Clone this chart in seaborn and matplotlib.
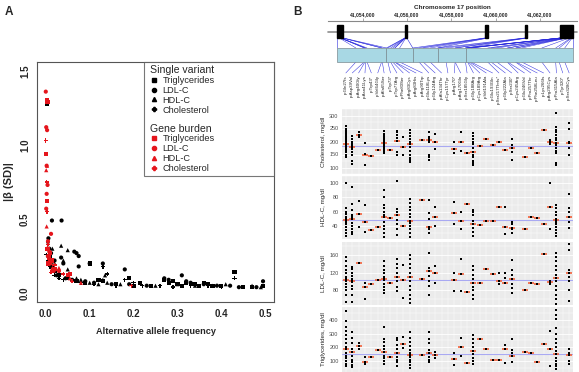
import re
import numpy as np
import pandas as pd
import matplotlib
matplotlib.use("Agg")
import matplotlib.pyplot as plt
import seaborn as sns
from matplotlib.lines import Line2D
from matplotlib.patches import Rectangle

sns.set_style("white")
plt.rcParams['font.family'] = ['Liberation Sans', 'DejaVu Sans']

# ---------------- Panel A data ----------------
sv_tg_freq = [0.003, 0.10, 0.13, 0.19, 0.215, 0.27, 0.28, 0.30, 0.31, 0.32, 0.33, 0.35, 0.37, 0.38, 0.43, 0.45, 0.495,
              0.005, 0.01, 0.02, 0.03, 0.05, 0.07, 0.09, 0.12, 0.16, 0.20, 0.24, 0.29, 0.34, 0.36, 0.40, 0.47]
sv_tg_beta = [1.28, 0.20, 0.08, 0.10, 0.07, 0.09, 0.07, 0.06, 0.05, 0.07, 0.06, 0.05, 0.06, 0.05, 0.14, 0.04, 0.05,
              0.30, 0.25, 0.15, 0.12, 0.10, 0.08, 0.07, 0.09, 0.06, 0.05, 0.05, 0.08, 0.06, 0.07, 0.05, 0.04]
sv_ldl_freq = [0.014, 0.036, 0.006, 0.008, 0.07, 0.075, 0.065, 0.035, 0.02, 0.13, 0.18, 0.31, 0.495, 0.10, 0.075, 0.04,
               0.012, 0.025, 0.045, 0.06, 0.09, 0.11, 0.15, 0.19, 0.23, 0.27, 0.28, 0.32, 0.33, 0.36, 0.39, 0.42, 0.44,
               0.48, 0.005, 0.015]
sv_ldl_beta = [0.49, 0.49, 0.37, 0.30, 0.27, 0.25, 0.28, 0.24, 0.22, 0.20, 0.16, 0.12, 0.08, 0.20, 0.18, 0.20,
               0.27, 0.12, 0.10, 0.09, 0.08, 0.07, 0.06, 0.06, 0.05, 0.10, 0.09, 0.08, 0.07, 0.06, 0.05, 0.05, 0.04,
               0.04, 0.25, 0.18]
sv_hdl_freq = [0.035, 0.05, 0.005, 0.015, 0.04, 0.02, 0.05, 0.03, 0.135, 0.13, 0.07, 0.10, 0.14, 0.17, 0.25, 0.30,
               0.34, 0.38, 0.41, 0.47, 0.49, 0.012, 0.055, 0.08, 0.12]
sv_hdl_beta = [0.32, 0.29, 0.35, 0.30, 0.22, 0.20, 0.16, 0.14, 0.12, 0.09, 0.10, 0.07, 0.07, 0.06, 0.05, 0.06,
               0.05, 0.05, 0.06, 0.05, 0.04, 0.21, 0.13, 0.09, 0.06]
sv_chol_freq = [0.001, 0.006, 0.01, 0.13, 0.14, 0.43, 0.18, 0.20, 0.03, 0.06, 0.08, 0.11, 0.16, 0.22, 0.26, 0.29,
                0.33, 0.37, 0.40, 0.45, 0.02, 0.04]
sv_chol_beta = [0.26, 0.22, 0.18, 0.18, 0.13, 0.10, 0.09, 0.07, 0.10, 0.08, 0.07, 0.06, 0.05, 0.05, 0.05, 0.04,
                0.05, 0.05, 0.04, 0.04, 0.12, 0.09]

gb_tg_freq = [0.003, 0.004, 0.001, 0.002, 0.01, 0.005, 0.015, 0.05, 0.055, 0.02, 0.004, 0.008]
gb_tg_beta = [1.30, 1.29, 0.94, 0.62, 0.27, 0.20, 0.22, 0.12, 0.13, 0.16, 0.30, 0.24]
gb_ldl_freq = [0.0, 0.001, 0.003, 0.002, 0.004, 0.002, 0.001, 0.012, 0.005, 0.008, 0.01, 0.018, 0.03, 0.005]
gb_ldl_beta = [1.36, 1.12, 1.10, 0.86, 0.73, 0.67, 0.57, 0.40, 0.35, 0.28, 0.20, 0.15, 0.15, 0.25]
gb_hdl_freq = [0.001, 0.003, 0.002, 0.004, 0.007, 0.01, 0.015, 0.03, 0.055, 0.08]
gb_hdl_beta = [0.83, 0.86, 0.45, 0.31, 0.25, 0.21, 0.17, 0.17, 0.10, 0.07]
gb_chol_freq = [0.0, 0.002, 0.003, 0.005, 0.01, 0.012, 0.02, 0.04, 0.06, 0.195]
gb_chol_beta = [1.03, 0.75, 0.55, 0.33, 0.22, 0.14, 0.19, 0.13, 0.08, 0.05]

traits = ["Triglycerides", "LDL-C", "HDL-C", "Cholesterol"]
trait_markers = {"Triglycerides": "s", "LDL-C": "o", "HDL-C": "^", "Cholesterol": "P"}

# ---------------- Panel B data ----------------
variants = ["p.Gln27fs", "p.Asp39Val", "p.Arg40Gly", "p.Asn41Lys", "p.Trp43*", "p.Val64Gly", "p.Ala65Ser",
            "p.Trp73*", "p.Trp77Arg", "p.Phe80Ser", "p.Arg83Cys", "p.Arg83His", "p.Arg90Trp", "p.Glu118Lys",
            "p.Gly124Arg", "p.Ala134Thr", "p.Cys157Tyr", "p.Arg170*", "p.Arg170Gln", "p.Ser185Gly",
            "p.Gly188Arg", "p.Cys189Arg", "p.Val191Ala", "p.Glu193Gln", "p.Ser217Thrfs*", "p.Gly222Ala",
            "p.Ser230*", "p.Cys245Arg", "p.Glu246Val", "p.Pro257Thr", "p.Phe258Leu", "p.Lys266fs",
            "p.Arg295Cys", "p.Pro315Ala", "p.Tyr320*", "p.Ser328Cys"]

chrom_ticks = [41054000, 41056000, 41058000, 41060000, 41062000]
exon_start = [41052850, 41055900, 41059510, 41061320, 41062900]
exon_end = [41053120, 41055990, 41059650, 41061410, 41063490]
segment_aa = [0, 71, 109, 145, 185, 340]

nan = float('nan')
chol_pts = [[140, 150, 158, 165, 170, 175, 180, 185, 190, 195, 200, 205, 210, 215, 220, 228, 235, 242, 250, 258],
            [115, 125, 150, 160, 170, 178, 185, 192, 200, 210, 220], [216, 226, 237], [108, 152, 193], [144], [168],
            [155, 162, 170, 178, 185, 192, 198, 205, 212, 220, 228, 240], [167],
            [148, 158, 202, 215, 225, 235, 242], [147, 179, 218],
            [120, 128, 135, 150, 165, 180, 190, 198, 210, 220, 232, 245], [], [207],
            [128, 140, 150, 200, 204, 210, 218, 238], [172, 199, 230], [], [], [155, 173, 198], [165, 200, 238],
            [156], [110, 118, 125, 140, 150, 161, 175, 190, 200, 210, 220, 234], [182], [208], [187], [199],
            [169], [128, 158, 175, 187, 208], [], [142], [175], [156], [246], [192, 199, 206],
            [108, 118, 155, 165, 175, 185, 195, 205, 215, 225, 235, 245, 255, 308], [],
            [148, 175, 196, 200, 248, 270]]
chol_med = [192, 180, 226, 148, 144, 168, 195, 167, 202, 179, 189, nan, 207, 204, 199, nan, nan, 173, 200, 156,
            161, 182, 208, 187, 199, 169, 175, nan, 142, 175, 156, 246, 199, 193, nan, 196]

hdl_pts = [[26, 30, 34, 38, 42, 45, 48, 50, 53, 56, 60, 65, 100], [28, 32, 36, 40, 44, 49, 52, 55, 62, 71, 95],
           [38, 57, 75], [32, 46, 69], [34], [38], [25, 30, 35, 40, 45, 52, 55, 60, 65, 70, 80, 90], [51],
           [27, 35, 42, 48, 55, 60, 63, 103], [40], [25, 30, 35, 40, 44, 47, 52, 57, 62, 67, 72, 78], [], [77],
           [30, 35, 39, 50, 58, 77], [40, 53, 67], [], [], [42, 58, 73], [36, 47, 60], [71],
           [26, 32, 37, 42, 47, 55, 60, 62], [41], [47], [47], [67], [29, 38, 67], [30, 35, 37, 42, 45], [],
           [36], [52], [51], [43], [35, 67, 100], [26, 30, 34, 38, 42, 46, 48, 50, 55, 60, 65, 69], [],
           [37, 45, 53, 60, 65, 85]]
hdl_med = [48, 49, 57, 46, 34, 38, 52, 51, 55, 40, 47, nan, 77, 39, 53, nan, nan, 58, 47, 71, 42, 41, 47, 47, 67,
           38, 37, nan, 36, 52, 51, 43, 67, 48, nan, 53]

ldl_pts = [[54, 70, 80, 88, 95, 100, 102, 105, 110, 118, 125, 135, 145, 156],
           [54, 70, 82, 90, 98, 101, 105, 112, 120, 128, 133], [141], [60, 88, 97], [94], [103],
           [73, 80, 88, 95, 102, 106, 110, 118, 125, 135, 145], [97], [78, 88, 100, 111, 120, 130, 140, 150],
           [63, 102, 137], [52, 60, 70, 80, 90, 100, 109, 120, 130, 140, 150, 160], [], [106],
           [70, 90, 100, 112, 124, 130, 165], [96, 118, 135], [], [], [78, 102, 120], [78, 116, 150], [76],
           [60, 70, 80, 88, 96, 105, 115, 125, 135], [96], [127], [117], [94, 101, 118], [96, 108, 120],
           [73, 85, 95, 106, 115, 125, 148], [], [80], [97], [94], [161], [95, 98, 100],
           [50, 60, 70, 80, 90, 100, 107, 115, 125, 135, 145, 155, 165], [], [55, 80, 100, 110, 118, 125, 170, 185]]
ldl_med = [102, 101, 141, 88, 94, 103, 106, 97, 111, 102, 109, nan, 106, 124, 118, nan, nan, 102, 116, 76, 96, 96,
           127, 117, 101, 96, 106, nan, 80, 97, 94, 161, 98, 107, nan, 118]

tg_pts = [[60, 80, 100, 120, 140, 160, 185, 200, 230, 260, 290, 320, 350, 390, 466],
          [55, 70, 90, 110, 140, 166, 190, 230, 270, 310], [190, 207, 230], [75, 90, 130], [132], [178],
          [80, 100, 120, 140, 168, 190, 210, 240, 260, 346], [127], [65, 90, 110, 130, 156, 190, 220, 250, 270],
          [193, 227, 278], [50, 70, 90, 110, 130, 141, 160, 180, 210, 240, 270, 310], [], [141],
          [90, 110, 130, 161, 180, 230, 260, 310], [120, 144, 165], [], [], [70, 115, 160], [140, 200, 265], [88],
          [80, 100, 120, 150, 171, 200, 230, 260, 290], [259], [185], [110], [105], [83, 188, 217],
          [95, 137, 156, 180, 259], [], [163], [161], [93], [227], [60, 190, 320],
          [40, 60, 80, 100, 120, 149, 170, 200, 230, 260, 300, 340, 410, 440, 470], [], [80, 100, 141, 160, 190]]
tg_med = [185, 166, 207, 90, 132, 178, 168, 127, 156, 227, 141, nan, 141, 161, 144, nan, nan, 115, 200, 88, 171,
          259, 185, 110, 105, 188, 137, nan, 163, 161, 93, 227, 190, 149, nan, 141]

ref_levels = {"chol": 182, "hdl": 48, "ldl": 104, "tg": 150}

# ---------------- Figure ----------------
W, H = 579, 372
fig = plt.figure(figsize=(W / 100, H / 100), dpi=100)


def px_rect(x0, y0, x1, y1):
    return [x0 / W, 1 - y1 / H, (x1 - x0) / W, (y1 - y0) / H]


# ---- Panel A ----
axA = fig.add_axes(px_rect(37, 62, 274, 302))
rows = []
for kind, data in [("sv", [(sv_tg_freq, sv_tg_beta), (sv_ldl_freq, sv_ldl_beta), (sv_hdl_freq, sv_hdl_beta),
                           (sv_chol_freq, sv_chol_beta)]),
                   ("gb", [(gb_tg_freq, gb_tg_beta), (gb_ldl_freq, gb_ldl_beta), (gb_hdl_freq, gb_hdl_beta),
                           (gb_chol_freq, gb_chol_beta)])]:
    for t, (fx, by) in zip(traits, data):
        for a, b in zip(fx, by):
            rows.append((kind, t, a, b))
dfA = pd.DataFrame(rows, columns=["kind", "trait", "freq", "beta"])
colors = {"sv": "black", "gb": "#E5151C"}
for kind in ["sv", "gb"]:
    sns.scatterplot(data=dfA[dfA.kind == kind], x="freq", y="beta", style="trait", style_order=traits,
                    markers=trait_markers, color=colors[kind], s=9, linewidth=0, legend=False, ax=axA, zorder=3)
axA.set_xlim(-0.02, 0.52)
axA.set_ylim(-0.06, 1.56)
axA.set_xticks([0.0, 0.1, 0.2, 0.3, 0.4, 0.5])
axA.set_xticklabels(["0.0", "0.1", "0.2", "0.3", "0.4", "0.5"], fontweight="bold", fontsize=7)
axA.set_yticks([0.0, 0.5, 1.0, 1.5])
axA.set_yticklabels(["0.0", "0.5", "1.0", "1.5"], fontweight="bold", fontsize=7, rotation=90, va="center")
axA.tick_params(direction="out", length=3, width=0.7, color="#333333", pad=2)
axA.set_xlabel("Alternative allele frequency", fontweight="bold", fontsize=6.6, labelpad=6)
axA.set_ylabel("|\u03b2 (SD)|", fontweight="bold", fontsize=8, labelpad=4)
for sp in axA.spines.values():
    sp.set_color("#555555")
    sp.set_linewidth(0.8)

handles = [Line2D([], [], ls="none", label="Single variant")]
for t in traits:
    handles.append(Line2D([], [], ls="none", marker=trait_markers[t], color="black", markersize=3, label=t))
handles.append(Line2D([], [], ls="none", label=" "))
handles.append(Line2D([], [], ls="none", label="Gene burden"))
for t in traits:
    handles.append(Line2D([], [], ls="none", marker=trait_markers[t], color="#E5151C", markersize=3, label=t))
leg = axA.legend(handles=handles, loc="upper left", bbox_to_anchor=(0.451, 0.52, 0.549, 0.48), mode="expand",
                 borderaxespad=0, frameon=True, fancybox=False, edgecolor="#555555", fontsize=6.6,
                 handlelength=1.4, handletextpad=0.3, labelspacing=0.09, borderpad=0.35)
leg.get_frame().set_linewidth(0.8)
headers = {"Single variant", "Gene burden"}
for txt in leg.get_texts():
    if txt.get_text() in headers:
        txt.set_fontsize(7.6)
    if txt.get_text() == " ":
        txt.set_fontsize(3.5)
try:
    for col in leg._legend_handle_box.get_children():
        for hp in col.get_children():
            da, ta = hp.get_children()
            if ta.get_text() in headers:
                da.width = 0
except Exception:
    pass

fig.text(5 / W, 1 - 12 / H, "A", fontweight="bold", fontsize=8.5, va="center")
fig.text(293 / W, 1 - 12 / H, "B", fontweight="bold", fontsize=8.5, va="center")

# ---- Panel B: phenotype panels ----
panel_specs = [
    ("chol", "Cholesterol, mg/dl", chol_pts, chol_med, (90.5, 320), [100, 150, 200, 250, 300], (109, 174)),
    ("hdl", "HDL-C, mg/dl", hdl_pts, hdl_med, (21.6, 106.3), [40, 60, 80, 100], (176, 239)),
    ("ldl", "LDL-C, mg/dl", ldl_pts, ldl_med, (46.7, 190), [80, 120, 160], (241.5, 305)),
    ("tg", "Triglycerides, mg/dl", tg_pts, tg_med, (19.5, 495), [100, 200, 300, 400], (307, 372)),
]
idx = list(range(len(variants)))
panel_axes = []
for key, lab, pts, med, ylim, yt, (y0, y1) in panel_specs:
    ax = fig.add_axes(px_rect(342, y0, 573, y1))
    panel_axes.append(ax)
    ax.set_facecolor("#EBEBEB")
    df = pd.DataFrame([(i, v) for i in idx for v in pts[i]], columns=["idx", "val"])
    ax.axhline(ref_levels[key], color="#A9A9F2", lw=0.8, zorder=2)
    medx = [i for i in idx if not np.isnan(med[i])]
    medy = [med[i] for i in medx]
    ax.scatter(medx, medy, marker="_", s=22, linewidths=1.2, color="#F2603A", zorder=3)
    sns.scatterplot(data=df, x="idx", y="val", marker="s", s=2.2, color="black", linewidth=0, legend=False,
                    ax=ax, zorder=4)
    ax.set_xlim(-0.6, len(variants) - 0.4)
    ax.set_ylim(*ylim)
    ax.set_xticks(idx)
    ax.set_xticklabels([])
    ax.set_yticks(yt)
    ax.set_yticklabels([str(v) for v in yt])
    step = yt[1] - yt[0]
    ax.set_yticks([v + step / 2 for v in [yt[0] - step] + yt], minor=True)
    ax.grid(True, which="major", color="white", lw=0.6)
    ax.grid(True, which="major", axis="x", color="white", lw=0.35)
    ax.grid(True, which="minor", axis="y", color="white", lw=0.3)
    ax.set_axisbelow(True)
    ax.tick_params(axis="x", length=0)
    ax.tick_params(axis="y", which="major", length=1.5, width=0.4, color="#555555", labelsize=4, pad=1,
                   labelcolor="#4D4D4D")
    ax.tick_params(axis="y", which="minor", length=0)
    ax.set_xlabel("")
    ax.set_ylabel(lab, fontsize=4.5, labelpad=2)
    for sp in ax.spines.values():
        sp.set_visible(False)

# ---- Panel B: gene structure ----
g0, g1 = 41052435, 41063669
axg = fig.add_axes(px_rect(328, 21, 577, 110))
axg.set_facecolor("none")
axg.set_xlim(g0, g1)
axg.set_ylim(110, 21)
for s in ["left", "right", "bottom"]:
    axg.spines[s].set_visible(False)
axg.spines["top"].set_color("#888888")
axg.spines["top"].set_linewidth(0.8)
axg.xaxis.tick_top()
axg.xaxis.set_label_position("top")
axg.set_xticks(chrom_ticks)
axg.set_xticklabels([f"{v:,}" for v in chrom_ticks], fontsize=3.6, fontweight="bold")
axg.tick_params(axis="x", length=2, width=0.5, color="#888888", pad=1)
axg.set_yticks([])
axg.set_xlabel("Chromosome 17 position", fontsize=4.6, fontweight="bold", labelpad=2)

axg.plot([g0, g1], [31.7, 31.7], color="#8C8C8C", lw=1.2, zorder=1, clip_on=False)
for a, b in zip(exon_start, exon_end):
    axg.add_patch(Rectangle((a, 25), b - a, 13, color="black", zorder=3))

box0, box1 = exon_start[0], exon_end[-1]
plen = segment_aa[-1]


def aa_to_g(a):
    return box0 + (box1 - box0) * a / plen


for k in range(len(segment_aa) - 1):
    xa, xb = aa_to_g(segment_aa[k]), aa_to_g(segment_aa[k + 1])
    axg.add_patch(Rectangle((xa, 48), xb - xa, 14, facecolor="#A8D8E4", edgecolor="#7A8A90", lw=0.5, zorder=3))
    axg.plot([exon_start[k], xa], [38, 48], color="#2A2ADD", lw=0.4, zorder=2)
    axg.plot([exon_end[k], xb], [38, 48], color="#2A2ADD", lw=0.4, zorder=2)

inv = axg.transData.inverted()
for i, v in enumerate(variants):
    aa = int(re.search(r"(\d+)", v).group(1))
    k = max(j for j in range(len(segment_aa) - 1) if aa >= segment_aa[j])
    f = (aa - segment_aa[k]) / (segment_aa[k + 1] - segment_aa[k])
    gx = exon_start[k] + f * (exon_end[k] - exon_start[k])
    px = aa_to_g(aa)
    axg.plot([gx, px], [38, 48], color="#2A2ADD", lw=0.35, zorder=2)
    lx = inv.transform(panel_axes[0].transData.transform((i, 0)))[0]
    axg.plot([px, lx], [62, 73], color="#2A2ADD", lw=0.35, zorder=2)
    axg.text(lx, 75, v, rotation=90, ha="center", va="top", fontsize=3.2, color="#222222")

fig.savefig("out.png", dpi=100)
